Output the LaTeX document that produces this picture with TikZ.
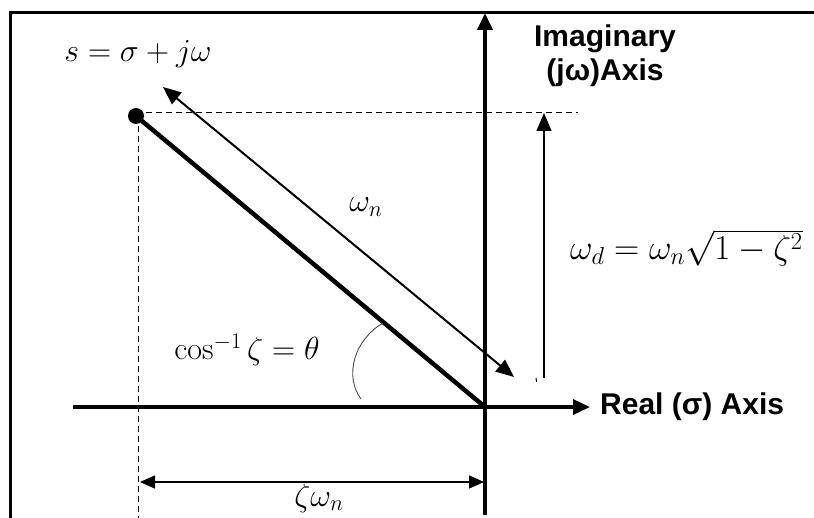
\RequirePackage{fix-cm}
\documentclass[tikz,border=0pt]{standalone}
\usepackage{amsmath}
\usepackage{fontspec}
\setsansfont{Liberation Sans}
\usepackage{tikz}
\usetikzlibrary{arrows.meta, calc}

\begin{document}
\begin{tikzpicture}[x=1pt, y=-1pt,
  axis/.style={line width=3.6pt, -{Triangle[length=17pt, width=15pt]}},
  guide/.style={line width=0.9pt, dash pattern=on 6pt off 4pt},
  dimline/.style={line width=1.3pt, {Triangle[length=15pt, width=13pt]}-{Triangle[length=15pt, width=13pt]}},
  axlabel/.style={font=\sffamily\bfseries\fontsize{30}{34}\selectfont, align=center, inner sep=0pt},
  mathlabel/.style={font=\fontsize{32}{36}\selectfont, inner sep=0pt}]

%% ── page: 814 x 518 px, one unit = one pixel, y pointing down ──
\useasboundingbox (0,0) rectangle (814,518);
\clip (0,0) rectangle (814,518);

% frame (only the top and left edges fall inside the crop)
\coordinate (frBL) at (10,520);
\coordinate (frTL) at (10,13);
\coordinate (frTR) at (816,13);
\draw[line width=3pt] (frBL) -- (frTL) -- (frTR);

%% ── axes ─────────────────────────────────────────────────────────
\coordinate (O) at (485,407);
\coordinate (reL) at (73,407);
\coordinate (reR) at (590,407);
\coordinate (imB) at (485,515);
\coordinate (imT) at (485,13);
\draw[axis] (reL) -- (reR);
\draw[axis] (imB) -- (imT);

\node[axlabel, anchor=west] (relab) at (600,407) {Real (σ) Axis};
\node[axlabel] (imlab) at (605,56) {Imaginary\\(jω)Axis};

%% ── the pole s and its projections ──────────────────────────────
\node[circle, fill, inner sep=0pt, minimum size=16pt] (S) at (136,116) {};
\coordinate (hd) at (578,112);
\coordinate (vd) at (138,520);
\draw[guide] (S.center |- hd) -- (hd);
\draw[guide] (S.center -| vd) -- (vd);
\draw[line width=4.5pt] (S.center) -- (O);

\node[mathlabel] (slab) at (138,54) {$s = \sigma + j\omega$};

%% ── omega_n, parallel to the pole vector ────────────────────────
\coordinate (wnA) at (163,87);
\coordinate (wnB) at (514,377);
\draw[line width=2pt, {Triangle[length=18pt, width=15pt]}-{Triangle[length=18pt, width=15pt]}] (wnA) -- (wnB);
\node[mathlabel] (wnlab) at (366,207) {$\omega_n$};

%% ── omega_d, the imaginary part ─────────────────────────────────
\coordinate (wdB) at (544,378);
\coordinate (wdT) at (544,113);
\draw[line width=1.1pt, -{Triangle[length=18pt, width=15pt]}] (wdB) -- (wdT);
\coordinate (tkA) at (536,378);
\coordinate (tkB) at (536.6,382);
\draw[line width=1pt] (tkA) -- (tkB);
\node[mathlabel, anchor=west, font=\fontsize{35}{40}\selectfont] (wdlab) at (570,248) {$\omega_d = \omega_n\sqrt{1-\zeta^2}$};

%% ── angle theta between the pole vector and the real axis ───────
\coordinate (arcA) at (361,399);
\coordinate (arcB) at (383,323);
\draw[black!70, line width=0.9pt] (arcA) .. controls (344,376) and (354,340) .. (arcB);
\node[mathlabel] (thlab) at (247,350) {$\cos^{-1}\zeta = \theta$};

%% ── zeta omega_n, the real part ─────────────────────────────────
\coordinate (dimL) at (140,482);
\coordinate (dimR) at (484,482);
\draw[dimline] (dimL) -- (dimR);
\node[mathlabel] (zwlab) at (319,498) {$\zeta\omega_n$};

\end{tikzpicture}
\end{document}
